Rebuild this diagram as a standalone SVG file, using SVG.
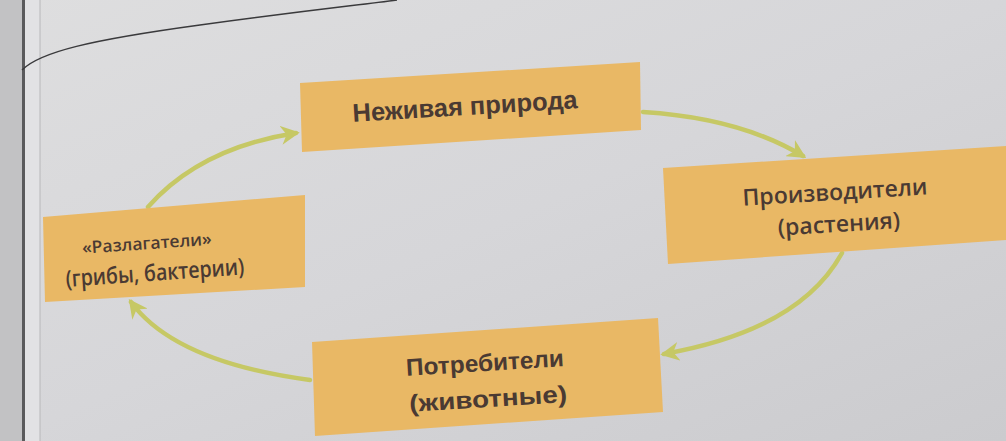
<svg xmlns="http://www.w3.org/2000/svg" width="1006" height="441" viewBox="0 0 1006 441">
  <defs>
    <linearGradient id="page" x1="0" y1="0" x2="1" y2="1">
      <stop offset="0" stop-color="#dededf"/>
      <stop offset="0.5" stop-color="#d6d6d9"/>
      <stop offset="1" stop-color="#cbcbce"/>
    </linearGradient>
    <marker id="arr" viewBox="0 0 10 10" refX="8" refY="5" markerWidth="4.2" markerHeight="4.2" orient="auto" markerUnits="strokeWidth">
      <path d="M0,0 L10,5 L0,10 L3,5 Z" fill="#c6c865"/>
    </marker>
    <style>
      .box { fill: #e9b865; }
      .conn { fill: none; stroke: #c6c865; stroke-width: 4.5; stroke-linecap: round; }
      .t1 { font-family: "Liberation Sans", Arial, sans-serif; font-weight: bold; fill: #4a3a33; text-anchor: middle; }
      .t2 { font-family: "Open Sans", "Noto Sans", sans-serif; font-weight: 600; fill: #4a3a33; text-anchor: middle; }
    </style>
  </defs>

  <rect x="0" y="0" width="1006" height="441" fill="url(#page)"/>
  <rect x="0" y="0" width="23" height="441" fill="#c2c2c4"/>
  <rect x="22" y="0" width="3" height="441" fill="#5a5a5c"/>
  <rect x="25" y="0" width="15" height="441" fill="#e2e2e4"/>
  <rect x="39.5" y="0" width="1" height="441" fill="#b8b8ba"/>
  <path d="M22,70 C40,52 90,40 200,25 S360,5 397,0" fill="none" stroke="#3a3a3c" stroke-width="1.5"/>

  <g id="connectors">
    <path class="conn" d="M643,112 Q740,118 803,156" marker-end="url(#arr)"/>
    <path class="conn" d="M842,253 Q800,330 664,354" marker-end="url(#arr)"/>
    <path class="conn" d="M310,380 Q175,362 131,302" marker-end="url(#arr)"/>
    <path class="conn" d="M148,207 Q200,148 296,133" marker-end="url(#arr)"/>
  </g>

  <g id="node-nonliving">
    <polygon class="box" points="300,83 640,62 641,130 302,152"/>
    <text class="t1" x="465" y="115" font-size="25.5" transform="rotate(-3.5 465 106)">Неживая природа</text>
  </g>

  <g id="node-producers">
    <polygon class="box" points="663,168 1006,146 1006,240 668,264"/>
    <text class="t2" x="836" y="200" font-size="23" transform="rotate(-3.5 836 210)">Производители</text>
    <text class="t2" x="838" y="232" font-size="23" transform="rotate(-3.5 836 210)">(растения)</text>
  </g>

  <g id="node-decomposers">
    <polygon class="box" points="43,217 305,195 305,287 45,302"/>
    <text class="t2" x="148" y="249" font-size="17" textLength="130" lengthAdjust="spacingAndGlyphs" transform="rotate(-4 150 260)">«Разлагатели»</text>
    <text class="t2" x="154" y="281" font-size="23" textLength="179" lengthAdjust="spacingAndGlyphs" transform="rotate(-4 150 260)">(грибы, бактерии)</text>
  </g>

  <g id="node-consumers">
    <polygon class="box" points="312,342 658,318 663,412 315,436"/>
    <text class="t1" x="486" y="371" font-size="24" textLength="158" lengthAdjust="spacingAndGlyphs" transform="rotate(-3.5 486 380)">Потребители</text>
    <text class="t1" x="487" y="407" font-size="24" textLength="158" lengthAdjust="spacingAndGlyphs" transform="rotate(-3.5 486 380)">(животные)</text>
  </g>
</svg>
